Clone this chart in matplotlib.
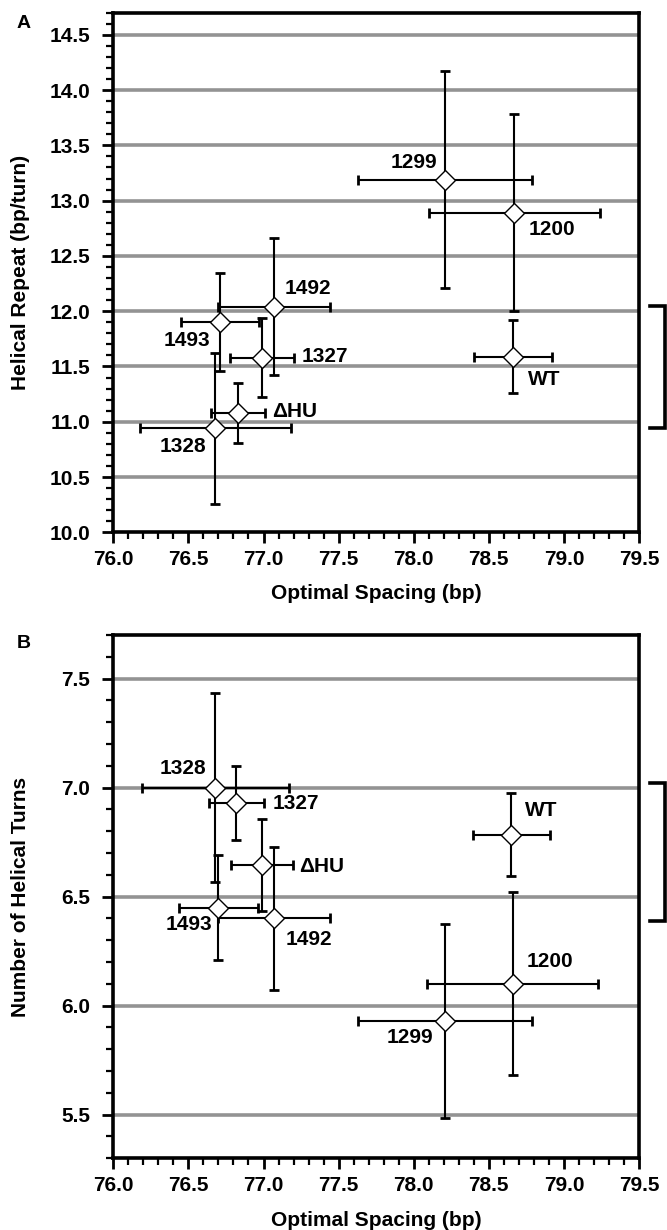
import numpy as np
import matplotlib
matplotlib.use("Agg")
import matplotlib.pyplot as plt
import matplotlib.transforms as mtransforms
from matplotlib.ticker import MultipleLocator, FormatStrFormatter

plt.rcParams['font.family'] = ['Liberation Sans', 'DejaVu Sans']
plt.rcParams['font.weight'] = 'bold'

# strains (same order in both panels)
strains = ['WT', '\u0394HU', '1200', '1299', '1327', '1328', '1492', '1493']

# Panel A: optimal spacing (bp) and helical repeat (bp/turn)
spacing_a = [78.66, 76.83, 78.67, 78.21, 76.99, 76.68, 77.07, 76.71]
spacing_a_err = [0.26, 0.18, 0.57, 0.58, 0.21, 0.50, 0.37, 0.26]
repeat_a = [11.59, 11.08, 12.89, 13.19, 11.58, 10.94, 12.04, 11.90]
repeat_a_err = [0.33, 0.27, 0.89, 0.98, 0.36, 0.68, 0.62, 0.445]

# Panel B: optimal spacing (bp) and number of helical turns
spacing_b = [78.65, 76.99, 78.66, 78.21, 76.82, 76.68, 77.07, 76.70]
spacing_b_err = [0.255, 0.205, 0.57, 0.58, 0.18, 0.49, 0.37, 0.26]
turns_b = [6.785, 6.645, 6.10, 5.93, 6.93, 7.00, 6.40, 6.45]
turns_b_err = [0.19, 0.21, 0.42, 0.445, 0.17, 0.435, 0.33, 0.24]

# brackets on the right side (data y range)
bracket_a = (12.05, 10.94)
bracket_b = (7.02, 6.39)

# label offsets in pixels (dx, dy up)
offs_a = [(31, -23), (57, 1), (38, -17), (-31, 17), (63, 1), (-33, -18), (34, 18), (-33, -18)]
offs_b = [(30, 24), (60, -1), (37, 22), (-35, -17), (59, -1), (-33, 19), (35, -21), (-30, -17)]

fig = plt.figure(figsize=(6.67, 12.30), dpi=100)
ax_a = fig.add_axes([0.1699, 0.5672, 0.7881, 0.4225])
ax_b = fig.add_axes([0.1699, 0.0583, 0.7881, 0.4254])


def draw_panel(ax, x, xerr, y, yerr, offs, ylim, grid_vals, ylabel, bracket):
    ax.set_xlim(76.0, 79.5)
    ax.set_ylim(*ylim)
    for g in grid_vals:
        ax.axhline(g, color='#939393', lw=2.6, zorder=1)
    ax.errorbar(x, y, xerr=xerr, yerr=yerr, fmt='none', ecolor='black',
                elinewidth=1.5, capsize=3.4, capthick=2.0, zorder=2)
    ax.plot(x, y, 'D', ms=10.3, mfc='white', mec='black', mew=1.0, zorder=3)
    for s, xi, yi, (dx, dy) in zip(strains, x, y, offs):
        ax.annotate(s, (xi, yi), xytext=(dx, dy), textcoords='offset pixels',
                    ha='center', va='center', fontsize=15, fontweight='bold')
    ax.xaxis.set_major_locator(MultipleLocator(0.5))
    ax.xaxis.set_minor_locator(MultipleLocator(0.1))
    ax.yaxis.set_major_locator(MultipleLocator(0.5))
    ax.yaxis.set_minor_locator(MultipleLocator(0.1))
    ax.xaxis.set_major_formatter(FormatStrFormatter('%.1f'))
    ax.yaxis.set_major_formatter(FormatStrFormatter('%.1f'))
    ax.tick_params(which='major', direction='out', length=8.2, width=2.0,
                   labelsize=15)
    ax.tick_params(axis='x', which='major', pad=4.5)
    ax.tick_params(axis='y', which='major', pad=8.5)
    ax.tick_params(which='minor', direction='out', length=4.8, width=1.6)
    ax.tick_params(top=False, right=False, which='both')
    for sp in ax.spines.values():
        sp.set_linewidth(2.6)
    ax.set_xlabel('Optimal Spacing (bp)', fontsize=15, fontweight='bold')
    ax.set_ylabel(ylabel, fontsize=15, fontweight='bold')
    ax.xaxis.set_label_coords(0.5, -0.10)
    ax.yaxis.set_label_coords(-0.158, 0.5)
    trans = mtransforms.blended_transform_factory(ax.transAxes, ax.transData)
    ax.plot([1.021, 1.049, 1.049, 1.021], [bracket[0], bracket[0], bracket[1], bracket[1]],
            color='black', lw=2.6, transform=trans, clip_on=False,
            solid_joinstyle='miter')


draw_panel(ax_a, spacing_a, spacing_a_err, repeat_a, repeat_a_err, offs_a,
           (10.0, 14.7), [10.5, 11.0, 11.5, 12.0, 12.5, 13.0, 13.5, 14.0, 14.5],
           'Helical Repeat (bp/turn)', bracket_a)
draw_panel(ax_b, spacing_b, spacing_b_err, turns_b, turns_b_err, offs_b,
           (5.3, 7.7), [5.5, 6.0, 6.5, 7.0, 7.5],
           'Number of Helical Turns', bracket_b)

fig.text(24 / 667, 1 - 24 / 1230, 'A', ha='center', va='center', fontsize=14, fontweight='bold')
fig.text(24 / 667, 1 - 644 / 1230, 'B', ha='center', va='center', fontsize=14, fontweight='bold')

fig.savefig('out.png', dpi=100)
